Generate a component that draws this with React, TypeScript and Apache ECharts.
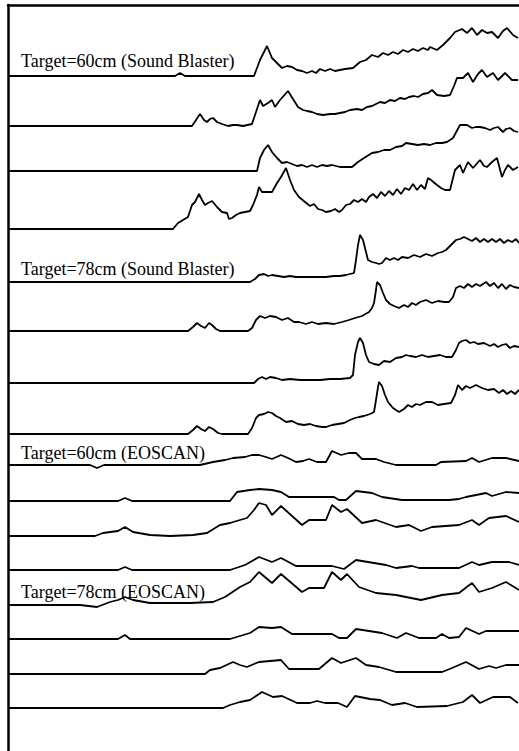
import React, { useEffect, useRef } from "react";
import * as echarts from "echarts";

// Time axis in samples (0..511); amplitude in arbitrary units; each trace stacked at an offset.
const TIME_MAX = 511;
const AMP_MAX = 746;

const labels = [
  "Target=60cm (Sound Blaster)",
  "Target=78cm (Sound Blaster)",
  "Target=60cm (EOSCAN)",
  "Target=78cm (EOSCAN)",
];

const offsets = [675, 625, 580, 522, 469, 420, 368, 317, 286, 250, 215, 181, 146, 112, 77, 43];

const sb60a = [[0,0],[167,0],[172,3],[177,0],[246,0],[252,16],[259,30],[264,18],[269,13],[274,8],[279,10],[284,9],[289,6],[294,5],[299,3],[304,5],[308,3],[312,7],[317,5],[322,7],[327,5],[332,6],[337,7],[345,8],[352,14],[358,16],[364,21],[370,19],[375,23],[380,21],[385,24],[390,22],[395,26],[400,24],[405,27],[410,25],[415,28],[420,26],[422,29],[429,26],[435,31],[442,38],[447,44],[454,47],[459,43],[464,48],[469,41],[474,46],[479,43],[484,44],[490,38],[495,45],[499,48],[505,41],[510,38]];
const sb60b = [[0,0],[184,0],[188,6],[192,12],[196,6],[199,4],[202,7],[205,8],[209,4],[214,2],[220,0],[225,1],[229,1],[235,0],[244,2],[248,14],[252,26],[255,20],[260,23],[264,26],[267,19],[272,26],[280,35],[285,27],[290,19],[295,16],[299,15],[304,14],[309,12],[315,11],[322,12],[327,12],[332,13],[337,14],[342,16],[349,17],[354,16],[359,19],[364,20],[368,22],[372,24],[377,23],[382,26],[387,25],[392,28],[397,27],[401,29],[406,30],[410,29],[415,32],[420,33],[424,36],[429,31],[436,30],[442,31],[446,40],[449,48],[455,48],[460,53],[465,44],[470,52],[474,56],[479,49],[485,53],[490,46],[497,53],[504,46],[510,46]];
const sb60c = [[0,0],[249,0],[252,13],[256,21],[260,26],[264,19],[269,13],[274,8],[279,9],[284,7],[289,5],[294,6],[299,4],[304,6],[309,4],[314,6],[319,5],[324,6],[332,4],[344,4],[350,9],[356,13],[364,18],[370,19],[376,21],[382,21],[388,24],[394,25],[398,28],[404,27],[410,26],[416,27],[422,26],[428,28],[434,28],[439,29],[445,33],[452,46],[459,46],[464,43],[468,44],[472,44],[477,43],[482,41],[486,43],[490,44],[495,39],[498,42],[502,43],[506,40],[510,39]];
const sb60d = [[0,0],[165,0],[170,6],[175,9],[180,12],[184,24],[187,27],[191,35],[194,29],[197,24],[200,26],[204,28],[209,22],[214,17],[219,16],[221,10],[224,11],[228,14],[232,16],[237,17],[242,18],[245,24],[249,34],[251,42],[254,37],[259,37],[264,37],[269,46],[273,52],[278,61],[282,49],[286,39],[291,32],[297,27],[302,23],[306,25],[310,20],[314,19],[318,17],[323,18],[327,20],[331,17],[334,19],[338,24],[342,25],[346,29],[350,27],[354,30],[358,27],[361,32],[365,35],[369,31],[373,37],[377,33],[381,38],[385,34],[389,40],[393,35],[397,41],[401,39],[405,45],[409,39],[413,44],[417,40],[420,51],[423,49],[429,44],[433,41],[437,39],[442,39],[445,51],[447,59],[452,64],[455,56],[460,67],[465,61],[472,69],[476,63],[479,62],[484,67],[489,71],[494,52],[497,59],[500,64],[505,59],[510,62]];
const sb78a = [[0,0],[242,0],[247,3],[251,7],[256,8],[260,6],[264,7],[270,6],[276,5],[282,6],[288,5],[294,5],[302,5],[310,5],[318,5],[326,6],[332,6],[338,7],[342,8],[346,9],[348,22],[350,37],[352,47],[355,42],[358,30],[360,22],[364,20],[368,19],[371,18],[374,19],[378,24],[382,22],[386,24],[390,22],[394,25],[400,24],[406,27],[412,25],[418,28],[424,26],[430,29],[434,30],[438,32],[442,36],[448,42],[452,43],[456,45],[460,43],[464,41],[468,44],[472,40],[476,43],[480,40],[484,43],[488,40],[492,43],[496,39],[500,42],[504,40],[508,43],[511,39]];
const sb78b = [[0,0],[180,0],[185,4],[189,8],[193,5],[197,3],[201,8],[204,6],[208,2],[212,0],[240,0],[244,3],[248,11],[252,15],[257,13],[262,15],[268,14],[274,11],[280,13],[286,9],[291,9],[298,7],[304,9],[310,7],[318,8],[326,7],[334,9],[341,11],[347,13],[354,15],[361,19],[364,23],[366,28],[368,41],[369,49],[372,46],[375,38],[378,31],[382,27],[386,25],[391,23],[396,26],[400,24],[404,28],[408,26],[412,29],[418,31],[424,28],[430,30],[436,29],[441,29],[445,34],[448,43],[452,45],[456,43],[460,47],[464,44],[468,47],[472,45],[478,49],[482,45],[486,48],[490,43],[494,47],[498,42],[502,46],[506,44],[511,43]];
const sb78c = [[0,0],[246,0],[250,4],[254,6],[258,4],[262,6],[268,5],[274,3],[282,4],[292,3],[302,3],[312,3],[322,4],[332,4],[342,5],[345,8],[347,28],[350,41],[352,45],[355,40],[358,28],[361,21],[366,19],[371,18],[376,22],[382,21],[388,25],[394,26],[398,28],[402,27],[408,26],[414,28],[420,26],[426,27],[432,28],[438,26],[444,26],[448,33],[451,40],[454,42],[458,43],[462,40],[466,41],[470,39],[476,40],[482,37],[486,39],[490,36],[494,38],[498,39],[502,35],[506,37],[511,36]];
const sb78d = [[0,0],[180,0],[185,4],[189,8],[193,5],[197,3],[201,7],[205,5],[210,1],[214,0],[240,0],[244,6],[248,16],[251,19],[256,20],[260,22],[264,21],[268,18],[272,16],[278,12],[284,13],[290,10],[296,9],[302,10],[308,8],[314,7],[318,7],[324,9],[330,10],[336,11],[342,14],[347,16],[351,17],[356,18],[362,20],[366,22],[368,34],[370,47],[371,52],[374,48],[377,39],[380,32],[385,26],[391,22],[396,25],[400,29],[404,27],[408,30],[412,29],[418,32],[424,32],[430,29],[436,30],[443,31],[447,39],[450,49],[454,44],[458,48],[462,46],[468,49],[474,46],[480,44],[486,45],[491,41],[495,44],[499,40],[503,43],[507,40],[511,44]];
const eo60a = [[0,0],[82,0],[89,-3],[96,0],[192,0],[205,3],[217,5],[225,7],[237,8],[244,10],[251,10],[258,8],[264,6],[273,10],[280,7],[288,3],[295,4],[301,6],[309,3],[318,3],[324,14],[333,10],[341,12],[348,12],[354,6],[368,6],[376,3],[388,0],[428,0],[433,3],[458,4],[464,7],[471,3],[484,7],[498,7],[511,4]];
const eo60b = [[0,0],[110,0],[117,3],[124,0],[222,0],[229,9],[242,11],[251,12],[264,11],[273,9],[281,4],[326,4],[331,1],[338,1],[348,10],[364,8],[374,4],[394,1],[441,1],[451,2],[458,4],[478,8],[484,5],[498,9],[511,8]];
const eo60c = [[0,0],[87,0],[95,3],[110,5],[117,9],[125,4],[142,1],[162,0],[185,1],[199,3],[212,11],[222,13],[232,16],[239,18],[246,26],[251,33],[258,31],[264,21],[273,30],[294,11],[301,16],[318,16],[324,31],[333,24],[339,27],[354,13],[368,16],[388,9],[401,11],[413,5],[424,9],[451,11],[464,16],[471,11],[481,18],[498,20],[511,14]];
const eo60d = [[0,0],[110,0],[117,3],[124,0],[222,0],[237,5],[251,13],[264,8],[273,12],[288,4],[324,4],[336,1],[348,10],[378,5],[388,2],[404,4],[411,2],[451,2],[464,8],[471,5],[484,8],[501,8],[511,5]];
const eo78a = [[0,0],[72,0],[89,-2],[102,3],[110,5],[117,8],[125,5],[142,2],[165,2],[182,2],[205,3],[217,8],[232,18],[242,23],[251,33],[264,22],[273,31],[294,13],[301,17],[316,17],[324,33],[333,25],[339,31],[351,18],[368,12],[388,10],[413,5],[434,10],[451,12],[464,22],[471,13],[484,17],[498,23],[511,15]];
const eo78b = [[0,0],[110,0],[117,4],[122,0],[222,0],[232,3],[242,6],[251,12],[264,11],[273,12],[284,5],[324,5],[331,1],[339,1],[348,10],[361,8],[374,6],[389,1],[398,6],[411,1],[428,1],[434,5],[441,1],[451,2],[458,11],[471,5],[478,8],[511,8]];
const eo78c = [[0,0],[197,0],[202,4],[212,6],[225,12],[232,9],[239,7],[246,10],[251,12],[273,14],[281,5],[311,5],[324,16],[333,11],[348,16],[358,9],[371,7],[388,2],[434,2],[444,6],[458,12],[471,5],[481,8],[488,6],[498,9],[511,9]];
const eo78d = [[0,0],[215,0],[222,3],[232,6],[242,8],[254,16],[265,11],[274,12],[289,5],[302,5],[309,7],[317,5],[330,5],[339,1],[347,12],[362,9],[372,8],[384,3],[397,5],[409,1],[439,2],[455,6],[464,13],[472,5],[485,11],[502,11],[510,5]];

const traces = [sb60a, sb60b, sb60c, sb60d, sb78a, sb78b, sb78c, sb78d, eo60a, eo60b, eo60c, eo60d, eo78a, eo78b, eo78c, eo78d];

export default function App() {
  const ref = useRef<HTMLDivElement>(null);
  useEffect(() => {
    if (!ref.current) return;
    const chart = echarts.init(ref.current, null, { renderer: "svg" });
    const series = traces.map((tr, i) => ({
      type: "line",
      name: "trace" + (i + 1),
      data: tr.map(([t, a]) => [t, a + offsets[i]]),
      showSymbol: false,
      symbol: "none",
      silent: true,
      lineStyle: { color: "#000", width: 1.8 },
    }));
    const labelTop = [52, 260, 444, 583];
    chart.setOption({
      animation: false,
      backgroundColor: "#fff",
      grid: { left: 8, right: 0, top: 5, bottom: 0 },
      xAxis: {
        type: "value",
        min: 0,
        max: TIME_MAX,
        position: "top",
        axisLine: { show: true, onZero: false, lineStyle: { color: "#000", width: 2.5 } },
        axisTick: { show: false },
        axisLabel: { show: false },
        splitLine: { show: false },
      },
      yAxis: {
        type: "value",
        min: 0,
        max: AMP_MAX,
        axisLine: { show: true, onZero: false, lineStyle: { color: "#000", width: 2.5 } },
        axisTick: { show: false },
        axisLabel: { show: false },
        splitLine: { show: false },
      },
      graphic: labels.map((txt, i) => ({
        type: "text",
        left: 21,
        top: labelTop[i],
        silent: true,
        style: {
          text: txt,
          fill: "#000",
          font: '18px "Liberation Serif", "Times New Roman", serif',
        },
      })),
      series,
    });
    return () => chart.dispose();
  }, []);
  return (
    <div
      ref={ref}
      style={{ position: "absolute", left: 0, top: 0, width: 519, height: 751 }}
    />
  );
}
